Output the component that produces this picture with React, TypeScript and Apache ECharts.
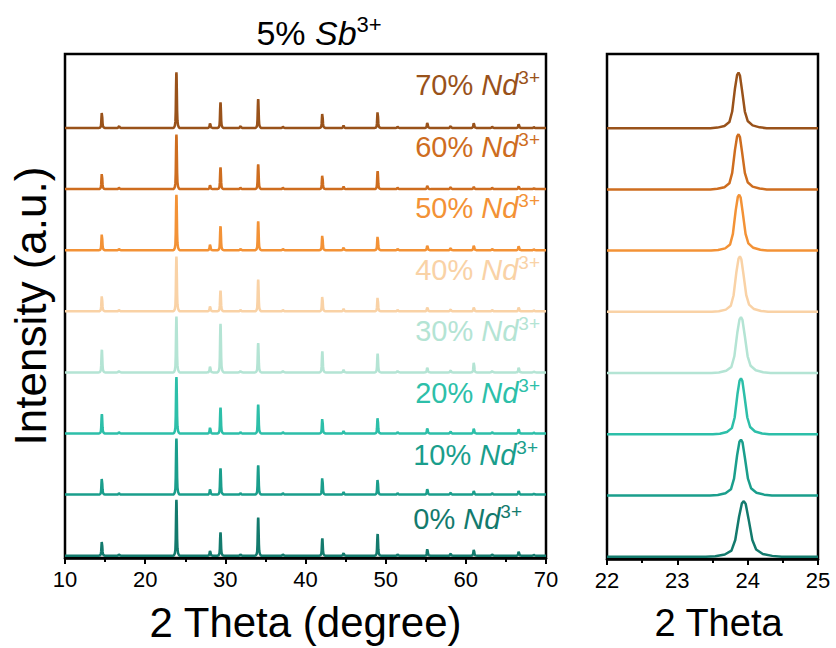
import React, { useEffect, useRef } from "react";
import * as echarts from "echarts";

// ---- data ----
const SERIES_NAMES = ["0%", "10%", "20%", "30%", "40%", "50%", "60%", "70%"];
const SERIES_COLORS = ["#137A6D", "#1A9E8C", "#2DBFA9", "#B4E4D4", "#F9D2A6", "#F39236", "#CE6D1F", "#99521A"];
const OFFSET_STEP = 61.34; // vertical stacking offset (a.u.)

// reflection positions (2θ, degree) in the wide scan
const PEAK_POS = [14.6, 16.75, 23.9, 28.1, 29.4, 31.9, 34.1, 37.2, 42.1, 44.75, 49.0, 51.5, 55.2, 58.1, 61.0, 63.3, 66.6, 68.5];
// peak heights (a.u.) for each composition, same order as PEAK_POS
const H_0 = [14.3, 1.5, 56.0, 5.0, 23.3, 1.5, 38.3, 1.5, 17.3, 2.5, 21.7, 1.5, 6.7, 2.0, 6.0, 1.5, 4.0, 1.0];
const H_10 = [16.3, 1.5, 56.3, 5.3, 26.3, 1.5, 29.3, 1.5, 17.0, 2.5, 15.3, 1.5, 5.7, 2.0, 3.7, 1.5, 3.7, 1.0];
const H_20 = [19.3, 1.5, 56.7, 6.0, 26.0, 1.5, 29.0, 1.5, 15.0, 2.5, 16.0, 1.5, 5.3, 2.0, 5.0, 1.5, 4.3, 1.0];
const H_30 = [22.7, 1.5, 56.0, 6.0, 48.7, 1.5, 29.3, 1.5, 21.0, 2.5, 18.7, 1.5, 5.0, 2.0, 10.0, 1.5, 5.0, 1.0];
const H_40 = [15.7, 1.5, 55.0, 5.0, 20.7, 1.5, 31.7, 1.5, 15.0, 2.5, 14.0, 1.5, 4.0, 2.0, 4.0, 1.5, 4.0, 1.0];
const H_50 = [16.3, 1.5, 55.7, 5.7, 24.0, 1.5, 29.0, 1.5, 15.0, 2.5, 14.0, 1.5, 4.7, 2.0, 4.7, 1.5, 4.0, 1.0];
const H_60 = [15.7, 1.5, 54.7, 4.0, 21.7, 1.5, 24.7, 1.5, 14.0, 2.5, 18.0, 1.5, 3.3, 2.0, 2.3, 1.5, 2.7, 1.0];
const H_70 = [15.7, 2.0, 56.0, 4.7, 25.7, 2.0, 29.0, 1.5, 14.7, 2.5, 16.3, 1.5, 5.3, 2.0, 5.0, 1.5, 4.0, 1.0];
const HEIGHTS = [H_0, H_10, H_20, H_30, H_40, H_50, H_60, H_70];

// peak profile: [offset from centre (deg), relative intensity]
const PROFILE: [number, number][] = [
  [-0.4, 0], [-0.3, 0.01], [-0.2, 0.04], [-0.13, 0.11], [-0.09, 0.3], [-0.05, 0.72], [-0.02, 0.96], [0, 1],
  [0.02, 0.95], [0.05, 0.68], [0.09, 0.3], [0.13, 0.13], [0.2, 0.05], [0.3, 0.015], [0.4, 0],
];
// main reflection in the zoom panel
const ZOOM_CENTER = [23.945, 23.905, 23.905, 23.905, 23.89, 23.88, 23.87, 23.87];
const ZOOM_HEIGHT = [55.7, 56.0, 56.0, 56.0, 55.5, 56.0, 55.3, 55.6];
const ZOOM_WIDTH = [1.35, 1.1, 1.0, 1.05, 1.0, 1.0, 1.0, 1.0];

const LEFT_TICKS = [10, 20, 30, 40, 50, 60, 70];
const RIGHT_TICKS = [22, 23, 24, 25];

// ---- layout ----
const FONT = "'Liberation Sans', Arial, Helvetica, sans-serif";
const LABEL_RIGHT = [522, 538, 540, 540, 540, 540, 540, 540];
const LABEL_Y = [519, 455, 393, 331, 270, 208, 147, 85];

function buildProfile(center: number, height: number, width: number, base: number): [number, number][] {
  return PROFILE.map(([dx, r]) => [center + dx * width, base + height * r] as [number, number]);
}

export default function App() {
  const ref = useRef<HTMLDivElement>(null);
  useEffect(() => {
    if (!ref.current) return;
    const chart = echarts.init(ref.current, undefined, { renderer: "svg" });

    const series: any[] = [];
    SERIES_NAMES.forEach((name, i) => {
      const base = i * OFFSET_STEP;
      const left: [number, number][] = [[LEFT_TICKS[0], base]];
      PEAK_POS.forEach((p, k) => {
        left.push(...buildProfile(p, HEIGHTS[i][k], 1, base));
      });
      left.push([LEFT_TICKS[LEFT_TICKS.length - 1], base]);
      series.push({
        name: name + " wide",
        type: "line",
        xAxisIndex: 0,
        yAxisIndex: 0,
        data: left,
        showSymbol: false,
        symbol: "none",
        lineStyle: { color: SERIES_COLORS[i], width: 2.5 },
        z: 3,
      });
      const right: [number, number][] = [[RIGHT_TICKS[0], base]];
      right.push(...buildProfile(ZOOM_CENTER[i], ZOOM_HEIGHT[i], ZOOM_WIDTH[i], base));
      right.push([RIGHT_TICKS[RIGHT_TICKS.length - 1], base]);
      series.push({
        name: name + " zoom",
        type: "line",
        xAxisIndex: 1,
        yAxisIndex: 1,
        data: right,
        showSymbol: false,
        symbol: "none",
        lineStyle: { color: SERIES_COLORS[i], width: 2.5 },
        z: 3,
      });
    });

    const axisCommon = {
      type: "value",
      axisLine: { show: true, onZero: false, lineStyle: { color: "#000", width: 2.5 } },
      axisTick: { show: true, inside: false, length: 6, lineStyle: { color: "#000", width: 2 } },
      minorTick: { show: true, splitNumber: 2, length: 4, lineStyle: { color: "#000", width: 2 } },
      splitLine: { show: false },
      axisLabel: { color: "#000", fontSize: 22, fontFamily: FONT, margin: 10 },
      nameLocation: "middle",
      nameTextStyle: { color: "#000", fontFamily: FONT },
    };
    const yCommon = {
      type: "value",
      min: -2.3,
      max: 503.7,
      axisLine: { show: false },
      axisTick: { show: false },
      axisLabel: { show: false },
      splitLine: { show: false },
    };

    const graphic: any[] = [];
    SERIES_NAMES.forEach((name, i) => {
      const c = SERIES_COLORS[i];
      graphic.push({
        type: "text",
        x: LABEL_RIGHT[i],
        y: LABEL_Y[i],
        style: {
          text: `{a|${name} }{b|Nd}{c|3+}`,
          align: "right",
          verticalAlign: "middle",
          rich: {
            a: { fontSize: 29, fontFamily: FONT, fill: c, lineHeight: 34 },
            b: { fontSize: 29, fontFamily: FONT, fill: c, fontStyle: "italic", lineHeight: 34 },
            c: { fontSize: 19, fontFamily: FONT, fill: c, verticalAlign: "top", lineHeight: 21 },
          },
        },
      });
    });
    graphic.push({
      type: "text",
      x: 319,
      y: 33,
      style: {
        text: "{a|5% }{b|Sb}{c|3+}",
        align: "center",
        verticalAlign: "middle",
        rich: {
          a: { fontSize: 34, fontFamily: FONT, fill: "#000", lineHeight: 40 },
          b: { fontSize: 34, fontFamily: FONT, fill: "#000", fontStyle: "italic", lineHeight: 40 },
          c: { fontSize: 22, fontFamily: FONT, fill: "#000", verticalAlign: "top", lineHeight: 24 },
        },
      },
    });
    graphic.push({
      type: "text",
      x: 30,
      y: 306,
      rotation: Math.PI / 2,
      style: {
        text: "Intensity (a.u.)",
        align: "center",
        verticalAlign: "middle",
        fontSize: 44,
        fontFamily: FONT,
        fill: "#000",
      },
    });

    chart.setOption({
      animation: false,
      backgroundColor: "#fff",
      grid: [
        { left: 65, right: 290, top: 54, bottom: 89, show: true, borderColor: "#000", borderWidth: 2.5, backgroundColor: "transparent" },
        { left: 607, right: 18, top: 54, bottom: 89, show: true, borderColor: "#000", borderWidth: 2.5, backgroundColor: "transparent" },
      ],
      xAxis: [
        {
          ...axisCommon,
          gridIndex: 0,
          min: LEFT_TICKS[0],
          max: LEFT_TICKS[LEFT_TICKS.length - 1],
          interval: 10,
          name: "2 Theta (degree)",
          nameGap: 43,
          nameTextStyle: { color: "#000", fontFamily: FONT, fontSize: 42 },
        },
        {
          ...axisCommon,
          gridIndex: 1,
          min: RIGHT_TICKS[0],
          max: RIGHT_TICKS[RIGHT_TICKS.length - 1],
          interval: 1,
          name: "2 Theta",
          nameGap: 45,
          nameTextStyle: { color: "#000", fontFamily: FONT, fontSize: 38, padding: [0, 0, 0, 12] },
        },
      ],
      yAxis: [
        { ...yCommon, gridIndex: 0 },
        { ...yCommon, gridIndex: 1 },
      ],
      series,
      graphic,
    });
    return () => chart.dispose();
  }, []);
  return <div ref={ref} style={{ width: 836, height: 648, position: "absolute", left: 0, top: 0 }} />;
}
